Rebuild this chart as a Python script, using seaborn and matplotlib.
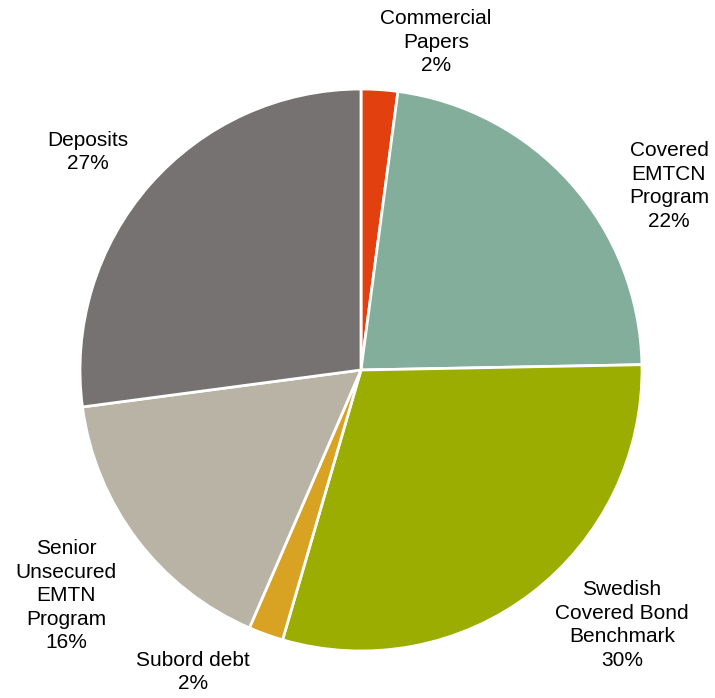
import matplotlib
matplotlib.use("Agg")
import matplotlib.pyplot as plt
import seaborn as sns

# Data
labels = ["Commercial\nPapers", "Covered\nEMTCN\nProgram", "Swedish\nCovered Bond\nBenchmark",
          "Subord debt", "Senior\nUnsecured\nEMTN\nProgram", "Deposits"]
shares = [2.1, 22.6, 29.8, 2.0, 16.4, 27.1]
pct_text = ["2%", "22%", "30%", "2%", "16%", "27%"]

colors = ["#E2410F", "#84AE9C", "#9BAD00", "#D8A322", "#B8B3A4", "#777272"]
# label centres, in units of the pie radius
label_pos = [(0.267, 1.167), (1.096, 0.655), (0.929, -0.907),
             (-0.598, -1.075), (-1.050, -0.804), (-0.972, 0.776)]

sns.set_theme(style="white")
plt.rcParams['font.family'] = ['Liberation Sans', 'DejaVu Sans']

fig = plt.figure(figsize=(7.15, 6.98), dpi=100)
ax = fig.add_axes([0, 0, 1, 1])
ax.pie(shares, colors=colors, startangle=90, counterclock=False, radius=1,
       wedgeprops=dict(edgecolor="white", linewidth=2))
ax.set_xlim(-361 / 281, 354 / 281)
ax.set_ylim(-328 / 281, 370 / 281)
ax.set_aspect('auto')
ax.axis('off')

for lab, pct, (x, y) in zip(labels, pct_text, label_pos):
    ax.text(x, y, lab + "\n" + pct, ha="center", va="center",
            fontsize=15, linespacing=1.3, color="black")

fig.savefig("out.png", dpi=100)
